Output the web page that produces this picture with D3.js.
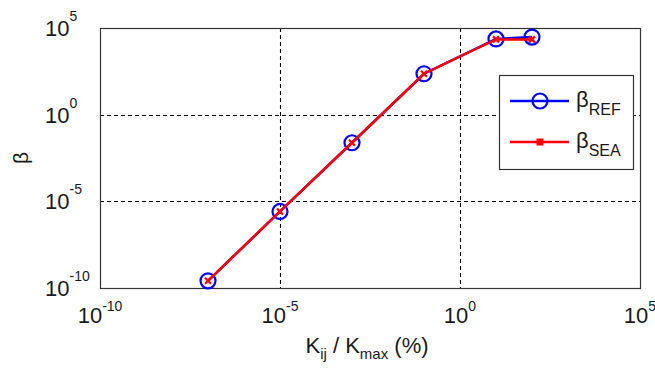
<!DOCTYPE html>
<html>
<head>
<meta charset="utf-8">
<script src="https://cdn.jsdelivr.net/npm/d3@7"></script>
<style>
  body { margin: 0; background: #fff; }
  text { font-family: "Liberation Sans", Arial, sans-serif; fill: #1a1a1a; }
</style>
</head>
<body>
<svg width="655" height="370"></svg>
<script>
// values (log-log plot)
var kRatio = [1e-7, 1e-5, 1e-3, 1e-1, 1e1, 1e2];
var betaRef = [2.6e-10, 2.6e-6, 2.4e-2, 2.3e2, 2.35e4, 3.0e4];
var betaSea = [2.6e-10, 2.6e-6, 2.4e-2, 2.3e2, 2.2e4, 2.2e4];
var tickExps = [-10, -5, 0, 5];
var tickVals = tickExps.map(function(e) { return Math.pow(10, e); });

var svg = d3.select('svg');
var plotL = 100, plotR = 640, plotT = 28, plotB = 288;

var x = d3.scaleLog().domain([1e-10, 1e5]).range([plotL, plotR]);
var y = d3.scaleLog().domain([1e-10, 1e5]).range([plotB, plotT]);

// grid
var grid = svg.append('g')
    .attr('stroke', '#000')
    .attr('stroke-width', 1.1)
    .attr('stroke-dasharray', '4,3');
grid.selectAll('.gx').data(tickVals.slice(1, -1)).enter().append('line')
    .attr('x1', function(d) { return Math.round(x(d)) + 0.5; })
    .attr('x2', function(d) { return Math.round(x(d)) + 0.5; })
    .attr('y1', plotT).attr('y2', plotB);
grid.selectAll('.gy').data(tickVals.slice(1, -1)).enter().append('line')
    .attr('y1', function(d) { return Math.round(y(d)) + 0.5; })
    .attr('y2', function(d) { return Math.round(y(d)) + 0.5; })
    .attr('x1', plotL).attr('x2', plotR);

// frame
svg.append('rect')
    .attr('x', plotL + 0.5).attr('y', plotT + 0.5)
    .attr('width', plotR - plotL).attr('height', plotB - plotT)
    .attr('fill', 'none').attr('stroke', '#333').attr('stroke-width', 1.2);

// x tick labels
var xl = svg.selectAll('.xl').data(tickExps).enter().append('text')
    .attr('x', function(d) { return x(Math.pow(10, d)); })
    .attr('y', 323)
    .attr('text-anchor', 'middle')
    .style('font-size', '22px');
xl.append('tspan').text('10');
xl.append('tspan').attr('dy', -12).style('font-size', '14px').text(function(d) { return d; });

// y tick labels
var yl = svg.selectAll('.yl').data(tickExps).enter().append('text')
    .attr('x', 45)
    .attr('y', function(d) { return y(Math.pow(10, d)) + 8; })
    .style('font-size', '22px');
yl.append('tspan').text('10');
yl.append('tspan').attr('dy', -15).style('font-size', '14px').text(function(d) { return d; });

// axis titles
var xt = svg.append('text')
    .attr('x', 367).attr('y', 353)
    .attr('text-anchor', 'middle')
    .style('font-size', '22px');
xt.append('tspan').text('K');
xt.append('tspan').attr('dy', 6).style('font-size', '15px').text('ij');
xt.append('tspan').attr('dy', -6).text(' / K');
xt.append('tspan').attr('dy', 6).style('font-size', '15px').text('max');
xt.append('tspan').attr('dy', -6).text(' (%)');

svg.append('text')
    .attr('transform', 'translate(28,158) rotate(-90)')
    .attr('text-anchor', 'middle')
    .style('font-size', '21px')
    .text('β');

// series
var line = d3.line()
    .x(function(d) { return x(d[0]); })
    .y(function(d) { return y(d[1]); });

var refPts = d3.zip(kRatio, betaRef);
var seaPts = d3.zip(kRatio, betaSea);

svg.append('path')
    .attr('d', line(refPts))
    .attr('fill', 'none').attr('stroke', '#0000ff').attr('stroke-width', 2.5);
svg.selectAll('.ref').data(refPts).enter().append('circle')
    .attr('cx', function(d) { return x(d[0]); })
    .attr('cy', function(d) { return y(d[1]); })
    .attr('r', 7.5)
    .attr('fill', 'none').attr('stroke', '#0000ff').attr('stroke-width', 2.2);

svg.append('path')
    .attr('d', line(seaPts))
    .attr('fill', 'none').attr('stroke', '#ff0000').attr('stroke-width', 2.5);
svg.selectAll('.sea').data(seaPts).enter().append('path')
    .attr('transform', function(d) { return 'translate(' + x(d[0]) + ',' + y(d[1]) + ')'; })
    .attr('d', 'M-3,-3L3,3M-3,3L3,-3')
    .attr('stroke', '#ff0000').attr('stroke-width', 2.2);

// legend
var lg = svg.append('g');
lg.append('rect')
    .attr('x', 499.5).attr('y', 75.5).attr('width', 134).attr('height', 94)
    .attr('fill', '#fff').attr('stroke', '#333').attr('stroke-width', 1.2);

var legendItems = [
    {sub: 'REF', color: '#0000ff', y: 101},
    {sub: 'SEA', color: '#ff0000', y: 142}
];
legendItems.forEach(function(it, i) {
    lg.append('line')
        .attr('x1', 510).attr('x2', 569).attr('y1', it.y).attr('y2', it.y)
        .attr('stroke', it.color).attr('stroke-width', 2.5);
    if (i === 0) {
        lg.append('circle').attr('cx', 540).attr('cy', it.y).attr('r', 7.5)
            .attr('fill', 'none').attr('stroke', it.color).attr('stroke-width', 2.2);
    } else {
        lg.append('rect').attr('x', 536.5).attr('y', it.y - 3.5).attr('width', 7).attr('height', 7)
            .attr('fill', it.color);
    }
    var t = lg.append('text')
        .attr('x', 576).attr('y', it.y + 6)
        .style('font-size', '22px');
    t.append('tspan').text('β');
    t.append('tspan').attr('dy', 8).style('font-size', '16px').text(it.sub);
});
</script>
</body>
</html>
